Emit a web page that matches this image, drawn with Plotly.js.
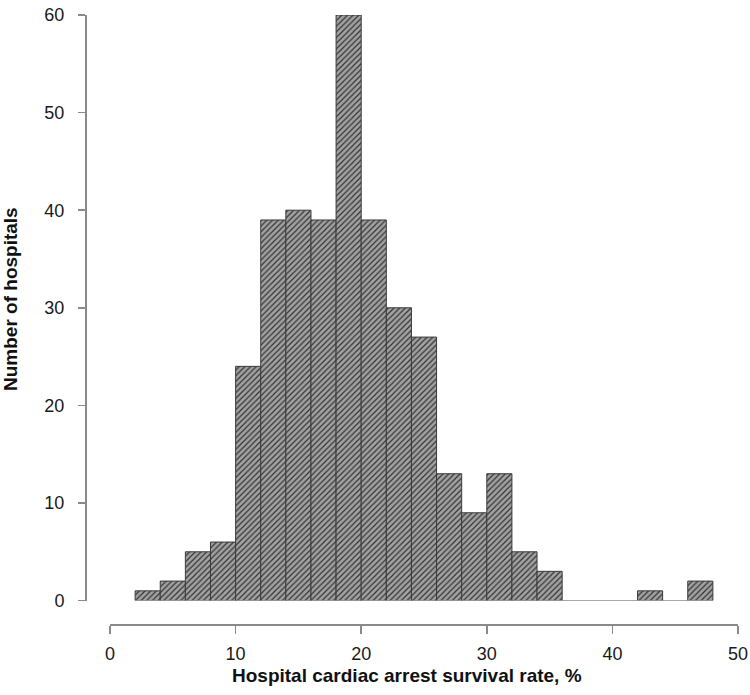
<!DOCTYPE html>
<html><head><meta charset="utf-8">
<script src="https://cdn.plot.ly/plotly-3.0.1.min.js"></script>
<style>html,body{margin:0;padding:0;background:#fff;}#chart{width:750px;height:695px;}</style>
</head><body><div id="chart"></div>
<script>
// bin left edges (width 2) and counts
const binStarts = [2,4,6,8,10,12,14,16,18,20,22,24,26,28,30,32,34,36,38,40,42,44,46];
const binWidth = 2;
const counts = [1,2,5,6,24,39,40,39,60,39,30,27,13,9,13,5,3,0,0,0,1,0,2];
const xTicks = [0,10,20,30,40,50];
const yTicks = [0,10,20,30,40,50,60];
const xTitle = 'Hospital cardiac arrest survival rate, %';
const yTitle = 'Number of hospitals';

const centers = binStarts.map(s => s + binWidth/2);
const nzX = [], nzY = [];
centers.forEach((c,i)=>{ if(counts[i]>0){nzX.push(c); nzY.push(counts[i]);} });
// zero-count bins drawn as baseline segments
const zx = [], zy = [];
binStarts.forEach((s,i)=>{ if(counts[i]===0){ zx.push(s, s+binWidth, null); zy.push(0,0,null);} });

const traces = [
  {type:'bar', x:nzX, y:nzY, width:binWidth,
   marker:{color:'#9a9a9a', line:{color:'#3a3a3a', width:1},
     pattern:{shape:'/', fgcolor:'#333333', bgcolor:'#a2a2a2', size:4, solidity:0.3}},
   hoverinfo:'x+y', showlegend:false},
  {type:'scatter', mode:'lines', x:zx, y:zy, line:{color:'#3a3a3a', width:1}, showlegend:false, hoverinfo:'skip'}
];

const layout = {
  width:750, height:695,
  margin:{l:85, r:12, t:15, b:71},
  paper_bgcolor:'#fff', plot_bgcolor:'#fff',
  font:{family:'Liberation Sans, Arial, sans-serif', color:'#1a1a1a', size:18},
  bargap:0,
  xaxis:{range:[0,50], domain:[0.0383,1], anchor:'free', position:0,
    tickvals:xTicks, ticks:'outside', ticklen:8, tickcolor:'#8a8a8a', tickwidth:1.5,
    showline:true, linecolor:'#8a8a8a', linewidth:1.5, showgrid:false, zeroline:false,
    tickfont:{size:18}, ticklabelstandoff:5},
  yaxis:{range:[0,60], domain:[0.0384,1], anchor:'free', position:0,
    tickvals:yTicks, ticks:'outside', ticklen:7, tickcolor:'#8a8a8a', tickwidth:1.5,
    showline:true, linecolor:'#8a8a8a', linewidth:1.5, showgrid:false, zeroline:false,
    tickfont:{size:18}, ticklabelstandoff:10},
  annotations:[
    {text:'<b>'+xTitle+'</b>', xref:'paper', yref:'paper', x:(407-85)/653, y:-(675-624)/609,
     xanchor:'center', yanchor:'middle', showarrow:false, font:{size:19, color:'#111'}},
    {text:'<b>'+yTitle+'</b>', xref:'paper', yref:'paper', x:-(85-10)/653, y:(624-299)/609,
     xanchor:'center', yanchor:'middle', textangle:-90, showarrow:false, font:{size:19, color:'#111'}}
  ]
};
Plotly.newPlot('chart', traces, layout, {displayModeBar:false, staticPlot:true});
</script></body></html>
